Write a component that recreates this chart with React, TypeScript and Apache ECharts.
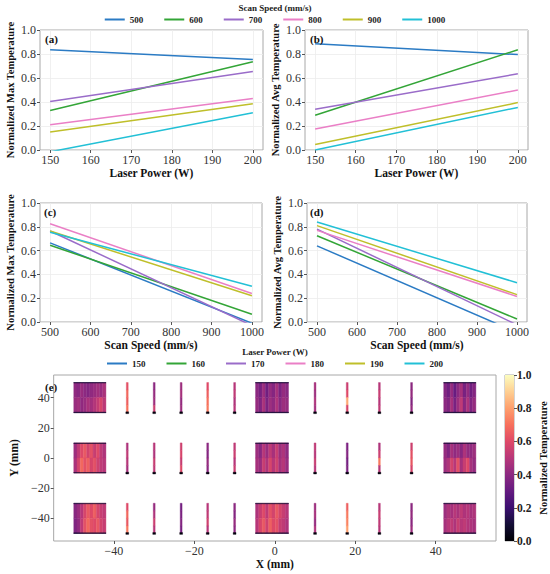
import React, { useEffect, useRef } from "react";
import * as echarts from "echarts";

const FONT = "Liberation Serif";

// ---- line panels data ----
const SPEED_NAMES = ["500", "600", "700", "800", "900", "1000"];
const POWER_NAMES = ["150", "160", "170", "180", "190", "200"];
const COLORS = ["#2b7bc4", "#33a537", "#9a6cc9", "#ea7fc6", "#bfbf2a", "#22c0d6"];

const POWER_ENDS = [150, 200];
const SPEED_ENDS = [500, 1000];
const POWER_TICKS = [150, 160, 170, 180, 190, 200];
const SPEED_TICKS = [500, 600, 700, 800, 900, 1000];

// (a) normalized max temperature vs laser power, one row per scan speed
const MAXT_VS_POWER = [
  [0.835, 0.755],
  [0.33, 0.735],
  [0.405, 0.655],
  [0.21, 0.43],
  [0.15, 0.385],
  [-0.015, 0.31],
];
// (b) normalized avg temperature vs laser power
const AVGT_VS_POWER = [
  [0.885, 0.795],
  [0.29, 0.835],
  [0.34, 0.635],
  [0.175, 0.5],
  [0.045, 0.395],
  [0.0, 0.355],
];
// (c) normalized max temperature vs scan speed, one row per laser power
const MAXT_VS_SPEED = [
  [0.665, -0.01],
  [0.645, 0.065],
  [0.765, -0.03],
  [0.825, 0.24],
  [0.765, 0.22],
  [0.755, 0.3],
];
// (d) normalized avg temperature vs scan speed
const AVGT_VS_SPEED = [
  [0.64, -0.088],
  [0.725, 0.025],
  [0.78, -0.024],
  [0.77, 0.215],
  [0.81, 0.23],
  [0.84, 0.33],
];

// ---- panel (e) data ----
const E_TICKS = [-40, -20, 0, 20, 40];
const BLOCK_X = [
  [-50, -42],
  [-4.8, 3.4],
  [42, 50],
];
const ROW_Y = [
  [30, 50],
  [-10, 10],
  [-50, -30],
];
// texture of the big pads: [row][block] -> [upper half columns, lower half columns]
const BLOCK_TEX = [
  [
    [
      [0.41, 0.39, 0.43, 0.4, 0.38, 0.41, 0.43, 0.45, 0.43, 0.47],
      [0.43, 0.45, 0.41, 0.43, 0.47, 0.45, 0.49, 0.53, 0.58, 0.51],
    ],
    [
      [0.4, 0.35, 0.44, 0.33, 0.42, 0.38, 0.46, 0.36, 0.42, 0.39],
      [0.42, 0.37, 0.47, 0.36, 0.44, 0.41, 0.48, 0.39, 0.44, 0.42],
    ],
    [
      [0.38, 0.33, 0.42, 0.31, 0.4, 0.46, 0.35, 0.42, 0.33, 0.38],
      [0.4, 0.37, 0.46, 0.35, 0.44, 0.52, 0.39, 0.48, 0.37, 0.42],
    ],
  ],
  [
    [
      [0.44, 0.52, 0.6, 0.64, 0.57, 0.62, 0.54, 0.6, 0.52, 0.48],
      [0.47, 0.57, 0.68, 0.62, 0.66, 0.58, 0.62, 0.56, 0.52, 0.5],
    ],
    [
      [0.44, 0.39, 0.5, 0.43, 0.52, 0.46, 0.54, 0.44, 0.48, 0.41],
      [0.46, 0.43, 0.54, 0.48, 0.58, 0.5, 0.56, 0.46, 0.5, 0.43],
    ],
    [
      [0.42, 0.37, 0.46, 0.41, 0.44, 0.39, 0.48, 0.42, 0.41, 0.44],
      [0.44, 0.48, 0.57, 0.5, 0.62, 0.46, 0.54, 0.6, 0.46, 0.42],
    ],
  ],
  [
    [
      [0.39, 0.43, 0.5, 0.58, 0.64, 0.6, 0.66, 0.58, 0.54, 0.52],
      [0.37, 0.41, 0.52, 0.62, 0.68, 0.62, 0.6, 0.64, 0.57, 0.54],
    ],
    [
      [0.48, 0.54, 0.6, 0.52, 0.62, 0.57, 0.64, 0.58, 0.54, 0.5],
      [0.5, 0.58, 0.64, 0.56, 0.66, 0.6, 0.62, 0.54, 0.52, 0.48],
    ],
    [
      [0.44, 0.48, 0.46, 0.5, 0.47, 0.52, 0.48, 0.5, 0.46, 0.48],
      [0.46, 0.5, 0.52, 0.48, 0.54, 0.5, 0.52, 0.49, 0.48, 0.46],
    ],
  ],
];
const EDGE_VALUE = 0.1;
const TRACK_X = [-36.7, -30, -23.3, -16.7, -10, 10, 18, 26, 34];
// [row][track] -> 4 segments, top to bottom
const TRACK_VALUES = [
  [
    [0.62, 0.68, 0.66, 0.7],
    [0.4, 0.42, 0.44, 0.55],
    [0.44, 0.46, 0.42, 0.44],
    [0.6, 0.66, 0.7, 0.72],
    [0.5, 0.52, 0.48, 0.5],
    [0.46, 0.44, 0.48, 0.45],
    [0.55, 0.6, 0.82, 0.58],
    [0.5, 0.54, 0.5, 0.52],
    [0.4, 0.42, 0.38, 0.42],
  ],
  [
    [0.48, 0.52, 0.5, 0.46],
    [0.5, 0.48, 0.54, 0.52],
    [0.56, 0.58, 0.54, 0.6],
    [0.4, 0.38, 0.42, 0.4],
    [0.52, 0.55, 0.5, 0.54],
    [0.52, 0.5, 0.54, 0.5],
    [0.36, 0.38, 0.34, 0.36],
    [0.48, 0.55, 0.72, 0.5],
    [0.56, 0.62, 0.64, 0.58],
  ],
  [
    [0.6, 0.68, 0.64, 0.72],
    [0.42, 0.48, 0.55, 0.5],
    [0.34, 0.36, 0.38, 0.35],
    [0.5, 0.52, 0.56, 0.5],
    [0.4, 0.38, 0.42, 0.4],
    [0.44, 0.46, 0.42, 0.48],
    [0.66, 0.72, 0.74, 0.8],
    [0.5, 0.54, 0.52, 0.5],
    [0.4, 0.42, 0.4, 0.44],
  ],
];
const COLORBAR_TICKS = [0, 0.2, 0.4, 0.6, 0.8, 1.0];

const MAGMA = [
  "#000004", "#140e36", "#3b0f70", "#641a80", "#8c2981", "#b73779",
  "#de4968", "#f7705c", "#fe9f6d", "#fecf92", "#fcfdbf",
];

function buildCells() {
  const cells: number[][] = [];
  ROW_Y.forEach(([y0, y1], r) => {
    const ymid = (y0 + y1) / 2;
    BLOCK_X.forEach(([x0, x1], b) => {
      const tex = BLOCK_TEX[r][b];
      tex.forEach((cols, h) => {
        const w = (x1 - x0) / cols.length;
        const ya = h === 0 ? ymid : y0;
        const yb = h === 0 ? y1 : ymid;
        cols.forEach((v, c) => {
          cells.push([x0 + c * w, x0 + (c + 1) * w, ya, yb, v]);
        });
      });
      cells.push([x0, x1, y1 - 0.35, y1, EDGE_VALUE]);
      cells.push([x0, x1, y0, y0 + 0.4, EDGE_VALUE]);
    });
    TRACK_X.forEach((x, t) => {
      const segs = TRACK_VALUES[r][t];
      const h = (y1 - y0) / segs.length;
      segs.forEach((v, s) => {
        cells.push([x - 0.23, x + 0.23, y1 - (s + 1) * h, y1 - s * h, v]);
      });
      cells.push([x - 0.35, x + 0.35, y0 - 0.6, y0 + 0.6, 0.02]);
    });
  });
  return cells;
}

const fmt1 = (v: number) => v.toFixed(1);
const fmtMinus = (v: number) => (v < 0 ? "\u2212" + Math.abs(v) : String(v));

export default function App() {
  const ref = useRef<HTMLDivElement>(null);
  useEffect(() => {
    document.body.style.margin = "0";
    if (!ref.current) return;
    const chart = echarts.init(ref.current, undefined, { renderer: "svg" });

    const grids = [
      { left: 40, top: 30, width: 223, height: 120 },
      { left: 305, top: 30, width: 223, height: 120 },
      { left: 40, top: 203, width: 222, height: 119 },
      { left: 307, top: 203, width: 220, height: 119 },
      { left: 40, top: 375, width: 456, height: 166 },
      { left: 505, top: 375, width: 9, height: 166 },
    ].map((g) => ({ ...g, show: true, borderColor: "#a8a8a8", borderWidth: 1, backgroundColor: "transparent" }));

    const nameStyle = { fontFamily: FONT, fontWeight: "bold" as const, fontSize: 11.5, color: "#111" };
    const labelStyle = { fontFamily: FONT, fontSize: 12, color: "#333" };
    const tick = { show: true, inside: false, length: 3, lineStyle: { color: "#555" } };
    const noLine = { show: false, onZero: false };

    const lineX = (gi: number, ticks: number[], min: number, max: number, name: string) => ({
      gridIndex: gi,
      type: "value",
      min,
      max,
      axisLine: noLine,
      axisTick: { ...tick, customValues: ticks },
      axisLabel: { ...labelStyle, margin: 4, customValues: ticks, formatter: (v: number) => String(v) },
      splitLine: { show: true, lineStyle: { color: "#ececec", width: 0.8 } },
      name,
      nameLocation: "middle",
      nameGap: 15,
      nameTextStyle: nameStyle,
    });
    const lineY = (gi: number, name: string) => ({
      gridIndex: gi,
      type: "value",
      min: 0,
      max: 1,
      interval: 0.2,
      axisLine: noLine,
      axisTick: tick,
      axisLabel: { ...labelStyle, margin: 4, formatter: fmt1 },
      splitLine: { show: true, lineStyle: { color: "#ececec", width: 0.8 } },
      name,
      nameLocation: "middle",
      nameGap: 24,
      nameTextStyle: { ...nameStyle, fontSize: 10.5 },
    });

    const xAxis: any[] = [
      lineX(0, POWER_TICKS, 147.5, 202.5, "Laser Power (W)"),
      lineX(1, POWER_TICKS, 147.5, 202.5, "Laser Power (W)"),
      lineX(2, SPEED_TICKS, 475, 1025, "Scan Speed (mm/s)"),
      lineX(3, SPEED_TICKS, 475, 1025, "Scan Speed (mm/s)"),
      {
        gridIndex: 4,
        type: "value",
        min: -55,
        max: 55,
        axisLine: noLine,
        axisTick: { ...tick, customValues: E_TICKS },
        axisLabel: { ...labelStyle, margin: 4, customValues: E_TICKS, formatter: fmtMinus },
        splitLine: { show: false },
        name: "X (mm)",
        nameLocation: "middle",
        nameGap: 17,
        nameTextStyle: nameStyle,
      },
      { gridIndex: 5, type: "category", data: ["c"], show: false },
    ];
    const yAxis: any[] = [
      lineY(0, "Normalized Max Temperature"),
      lineY(1, "Normalized Avg Temperature"),
      lineY(2, "Normalized Max Temperature"),
      lineY(3, "Normalized Avg Temperature"),
      {
        gridIndex: 4,
        type: "value",
        min: -55,
        max: 55,
        axisLine: noLine,
        axisTick: { ...tick, customValues: E_TICKS },
        axisLabel: { ...labelStyle, margin: 4, customValues: E_TICKS, formatter: fmtMinus },
        splitLine: { show: false },
        name: "Y (mm)",
        nameLocation: "middle",
        nameGap: 27,
        nameTextStyle: nameStyle,
      },
      {
        gridIndex: 5,
        type: "value",
        min: 0,
        max: 1,
        position: "right",
        axisLine: noLine,
        axisTick: { ...tick, customValues: COLORBAR_TICKS },
        axisLabel: { ...labelStyle, fontSize: 11.5, fontWeight: "bold", color: "#222", margin: 3, customValues: COLORBAR_TICKS, formatter: fmt1 },
        splitLine: { show: false },
        name: "Normalized Temperature",
        nameLocation: "middle",
        nameRotate: 90,
        nameGap: 24,
        nameTextStyle: { ...nameStyle, fontSize: 10.5 },
      },
    ];

    const series: any[] = [];
    const addLines = (gi: number, xs: number[], rows: number[][], names: string[]) => {
      rows.forEach((vals, i) => {
        series.push({
          type: "line",
          name: names[i],
          xAxisIndex: gi,
          yAxisIndex: gi,
          data: xs.map((x, k) => [x, vals[k]]),
          showSymbol: false,
          symbol: "none",
          clip: true,
          lineStyle: { color: COLORS[i], width: 1.5 },
          itemStyle: { color: COLORS[i] },
          silent: true,
        });
      });
    };
    addLines(0, POWER_ENDS, MAXT_VS_POWER, SPEED_NAMES);
    addLines(1, POWER_ENDS, AVGT_VS_POWER, SPEED_NAMES);
    addLines(2, SPEED_ENDS, MAXT_VS_SPEED, POWER_NAMES);
    addLines(3, SPEED_ENDS, AVGT_VS_SPEED, POWER_NAMES);

    const customIndex = series.length;
    series.push({
      type: "custom",
      xAxisIndex: 4,
      yAxisIndex: 4,
      data: buildCells(),
      encode: { x: [0, 1], y: [2, 3] },
      silent: true,
      renderItem: (params: any, api: any) => {
        const p0 = api.coord([api.value(0), api.value(3)]);
        const p1 = api.coord([api.value(1), api.value(2)]);
        const c = api.visual("color");
        return {
          type: "rect",
          shape: { x: p0[0], y: p0[1], width: p1[0] - p0[0], height: p1[1] - p0[1] },
          style: { fill: c, stroke: c, lineWidth: 0.4 },
        };
      },
    });
    series.push({
      type: "bar",
      xAxisIndex: 5,
      yAxisIndex: 5,
      data: [1],
      barWidth: "100%",
      silent: true,
      itemStyle: {
        color: new echarts.graphic.LinearGradient(
          0, 1, 0, 0,
          MAGMA.map((c, i) => ({ offset: i / (MAGMA.length - 1), color: c }))
        ),
      },
    });

    const panelTitle = (text: string, left: number, top: number) => ({
      text,
      left,
      top,
      textStyle: { fontFamily: FONT, fontWeight: "bold", fontSize: 11, color: "#111" },
      padding: 0,
    });
    const smallTitle = { fontFamily: FONT, fontWeight: "bold", fontSize: 9, color: "#222" };
    const legendBase = {
      left: "center",
      icon: "rect",
      itemWidth: 20,
      itemHeight: 2,
      itemGap: 21,
      textStyle: smallTitle,
      selectedMode: false,
      padding: 0,
    };

    chart.setOption({
      animation: false,
      backgroundColor: "#ffffff",
      grid: grids,
      xAxis,
      yAxis,
      series,
      visualMap: {
        show: false,
        type: "continuous",
        seriesIndex: customIndex,
        dimension: 4,
        min: 0,
        max: 1,
        inRange: { color: MAGMA },
      },
      title: [
        { text: "Scan Speed (mm/s)", left: "center", top: 3, padding: 0, textStyle: smallTitle },
        { text: "Laser Power (W)", left: "center", top: 347, padding: 0, textStyle: smallTitle },
        panelTitle("(a)", 45, 33),
        panelTitle("(b)", 310, 33),
        panelTitle("(c)", 44, 206),
        panelTitle("(d)", 310, 206),
        panelTitle("(e)", 45, 381),
      ],
      legend: [
        { ...legendBase, top: 15, data: SPEED_NAMES },
        { ...legendBase, top: 359, data: POWER_NAMES },
      ],
    });
    return () => chart.dispose();
  }, []);
  return <div ref={ref} style={{ width: 550, height: 574 }} />;
}
